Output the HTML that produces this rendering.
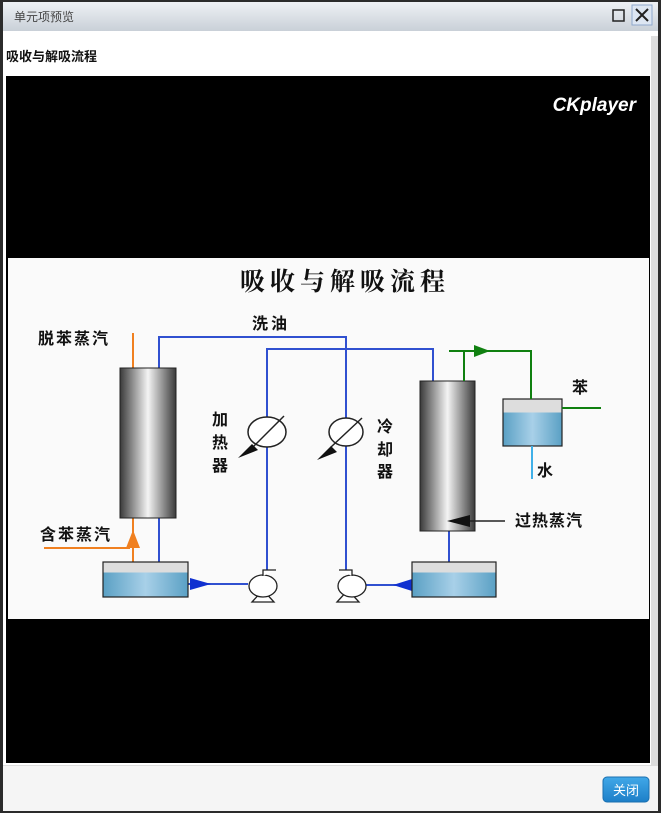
<!DOCTYPE html>
<html><head><meta charset="utf-8"><style>
html,body{margin:0;padding:0;width:661px;height:813px;overflow:hidden;background:#2b2b2b}
svg{display:block}
text{font-family:"Liberation Sans","Noto Sans CJK SC",sans-serif}
.s{font-family:"Liberation Serif","Noto Serif CJK SC",serif}
</style></head><body>
<svg width="661" height="813" viewBox="0 0 661 813" xmlns="http://www.w3.org/2000/svg">
<defs>
<linearGradient id="tb" x1="0" y1="0" x2="0" y2="1"><stop offset="0" stop-color="#eef1f5"/><stop offset="1" stop-color="#c9d0d8"/></linearGradient>
<linearGradient id="col" x1="0" y1="0" x2="1" y2="0"><stop offset="0" stop-color="#3a3a3a"/><stop offset="0.5" stop-color="#f4f4f4"/><stop offset="1" stop-color="#3a3a3a"/></linearGradient>
<linearGradient id="wat" x1="0" y1="0" x2="1" y2="0"><stop offset="0" stop-color="#5aa0c4"/><stop offset="0.5" stop-color="#a8d0e8"/><stop offset="1" stop-color="#5aa0c4"/></linearGradient>
<linearGradient id="btn" x1="0" y1="0" x2="0" y2="1"><stop offset="0" stop-color="#41a8e8"/><stop offset="1" stop-color="#1d7fc8"/></linearGradient>
</defs>
<rect x="3" y="2" width="655" height="809" fill="#fff"/>
<rect x="3" y="2" width="655" height="29" fill="url(#tb)"/>
<text x="14" y="21" font-size="12" fill="#444">单元项预览</text>
<rect x="613" y="10" width="11" height="11" fill="none" stroke="#222" stroke-width="1.5"/>
<rect x="632" y="5" width="20" height="20" fill="#dde6f2" stroke="#8fa8cc"/>
<path d="M636 9 L648 21 M648 9 L636 21" stroke="#222" stroke-width="2"/>
<text x="6" y="61" font-size="13" fill="#111" font-weight="bold">吸收与解吸流程</text>
<rect x="651" y="36" width="7" height="730" fill="#ddd"/>
<rect x="6" y="76" width="644" height="687" fill="#000"/>
<text x="636" y="111" font-size="19" font-style="italic" font-weight="bold" fill="#fff" text-anchor="end">CKplayer</text>
<rect x="8" y="258" width="641" height="361" fill="#fafafa"/>
<text x="345" y="290" font-size="25" fill="#111" text-anchor="middle" letter-spacing="5" class="s" font-weight="bold">吸收与解吸流程</text>
<g fill="#111" class="s" font-weight="bold">
<text x="38" y="344" font-size="16" letter-spacing="2">脱苯蒸汽</text>
<text x="40" y="540" font-size="16" letter-spacing="2">含苯蒸汽</text>
<text x="252" y="329" font-size="16" letter-spacing="3">洗油</text>
<g font-size="16"><text x="212" y="425">加</text><text x="212" y="448">热</text><text x="212" y="471">器</text>
<text x="377" y="432">冷</text><text x="377" y="455">却</text><text x="377" y="477">器</text>
<text x="572" y="393">苯</text><text x="537" y="476">水</text></g>
<text x="515" y="526" font-size="16" letter-spacing="1">过热蒸汽</text>
</g>
<!-- orange -->
<path d="M133 333 V368 M133 518 V562 M44 548 H130" stroke="#f08020" stroke-width="2" fill="none"/>
<path d="M133 530 L140 548 L126 548 Z" fill="#f08020"/>
<!-- blue pipes -->
<g stroke="#3050d0" stroke-width="2" fill="none">
<path d="M159 368 V337 H346 V570"/>
<path d="M267 570 V349 H433 V381"/>
<path d="M159 518 V562"/><path d="M449 531 V562"/>
<path d="M188 584 H248"/><path d="M361 585 H412"/>
</g>
<path d="M190 578 L211 584 L190 590 Z" fill="#1030d0"/>
<path d="M412 579 L393 585 L412 591 Z" fill="#1030d0"/>
<!-- columns -->
<rect x="120" y="368" width="56" height="150" fill="url(#col)" stroke="#222"/>
<rect x="420" y="381" width="55" height="150" fill="url(#col)" stroke="#222"/>
<!-- tanks -->
<g stroke="#222"><rect x="103" y="562" width="85" height="35" fill="url(#wat)"/><rect x="103.5" y="562.5" width="84" height="10" fill="#ddd" stroke="none"/>
<rect x="412" y="562" width="84" height="35" fill="url(#wat)"/><rect x="412.5" y="562.5" width="83" height="10" fill="#ddd" stroke="none"/>
<rect x="503" y="399" width="59" height="47" fill="url(#wat)"/><rect x="503.5" y="399.5" width="58" height="13" fill="#ddd" stroke="none"/></g>
<g fill="none" stroke="#222" stroke-width="1.2"><rect x="103" y="562" width="85" height="35"/><rect x="412" y="562" width="84" height="35"/><rect x="503" y="399" width="59" height="47"/></g>
<!-- green -->
<path d="M464 381 V351 M449 351 H531 V399 M562 408 H601" stroke="#108010" stroke-width="2" fill="none"/>
<path d="M474 345 L490 351 L474 357 Z" fill="#108010"/>
<path d="M532 446 V479" stroke="#40b0e8" stroke-width="2"/>
<!-- black arrow -->
<path d="M468 521 H505" stroke="#222" stroke-width="1.5"/>
<path d="M447 521 L470 515 L470 527 Z" fill="#111"/>
<!-- heaters -->
<g fill="#fff" stroke="#222" stroke-width="1.5">
<ellipse cx="267" cy="432" rx="19" ry="15"/><ellipse cx="346" cy="432" rx="17" ry="14"/></g>
<path d="M251 449 L284 416 M331 447 L362 418" stroke="#222" stroke-width="1.5"/>
<path d="M238 458 L252 444 L258 450 Z M317 460 L331 446 L337 452 Z" fill="#111"/>
<!-- pumps -->
<g fill="#fff" stroke="#222" stroke-width="1.3">
<path d="M252 602 L263 590 L274 602 Z"/><ellipse cx="263" cy="586" rx="14" ry="11"/><path d="M263 576 V570 H276"/>
<path d="M337 602 L348 590 L359 602 Z"/><ellipse cx="352" cy="586" rx="14" ry="11"/><path d="M352 576 V570 H339"/>
</g>
<!-- footer -->
<rect x="3" y="765" width="655" height="46" fill="#f5f5f5"/>
<line x1="3" y1="765.5" x2="658" y2="765.5" stroke="#ddd"/>
<rect x="603" y="777" width="46" height="25" rx="4" fill="url(#btn)" stroke="#1a70b0"/>
<text x="626" y="795" font-size="13" fill="#fff" text-anchor="middle">关闭</text>
</svg>
</body></html>
